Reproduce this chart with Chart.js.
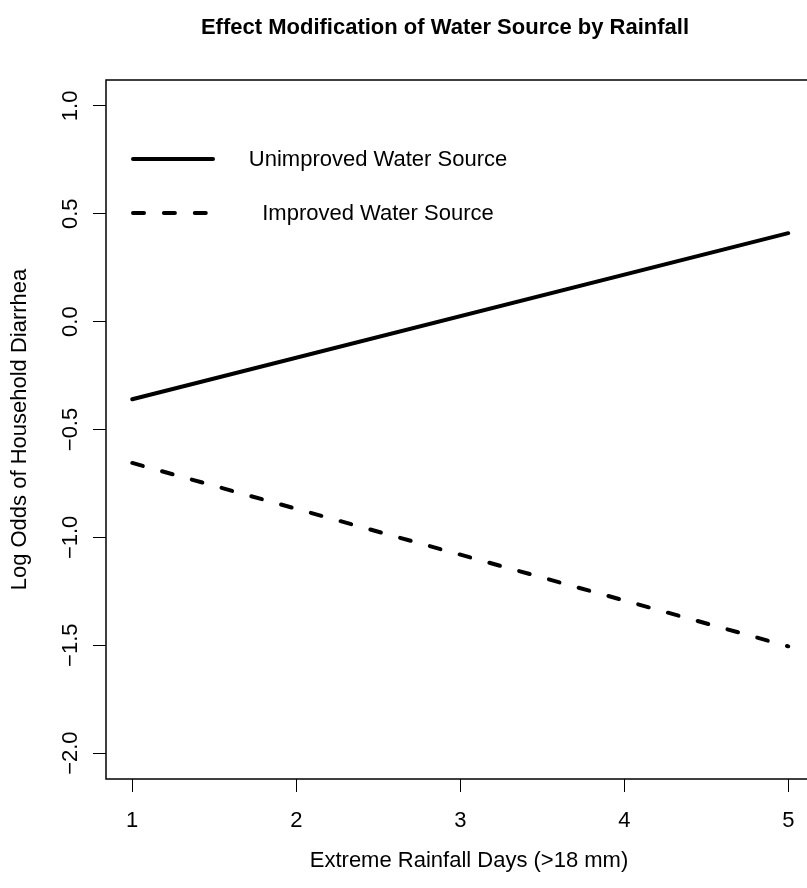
<!DOCTYPE html>
<html>
<head>
<meta charset="utf-8">
<script src="https://cdn.jsdelivr.net/npm/chart.js@4"></script>
<style>
  html, body { margin: 0; padding: 0; background: #fff; overflow: hidden; }
  canvas { display: block; }
</style>
</head>
<body>
<canvas id="rainChart" width="840" height="888"></canvas>
<script>
// extreme rainfall days (x) and fitted log odds for each water source
const rainfallDays = [1, 5];
const unimproved = [-0.36, 0.41];
const improved = [-0.655, -1.505];
const seriesLabels = ['Unimproved Water Source', 'Improved Water Source'];
const xTicks = [1, 2, 3, 4, 5];
const yTicks = [-2.0, -1.5, -1.0, -0.5, 0.0, 0.5, 1.0];

const FONT = '"Liberation Sans", Arial, Helvetica, sans-serif';
Chart.defaults.font.family = FONT;
Chart.defaults.color = '#000';

function toPoints(xs, ys) {
    return xs.map((x, i) => ({ x: x, y: ys[i] }));
}

// R style: 4% padding around the data range
function padRange(ticks) {
    const lo = Math.min(...ticks), hi = Math.max(...ticks);
    const pad = (hi - lo) * 0.04;
    return { min: lo - pad, max: hi + pad };
}
const xRange = padRange(xTicks);
const yRange = padRange(yTicks);

// box around the plot, main title, x label and legend in base-graphics style
const framePlugin = {
    id: 'frame',
    afterDatasetsDraw(chart) {
        const { ctx, chartArea: a } = chart;
        ctx.save();
        ctx.strokeStyle = '#000';
        ctx.lineWidth = 1.5;
        ctx.strokeRect(a.left, a.top, a.right - a.left, a.bottom - a.top);

        ctx.fillStyle = '#000';
        ctx.textAlign = 'center';
        ctx.textBaseline = 'alphabetic';
        ctx.font = 'bold 22px ' + FONT;
        ctx.fillText('Effect Modification of Water Source by Rainfall', 445, 34);
        ctx.font = '22px ' + FONT;
        ctx.fillText('Extreme Rainfall Days (>18 mm)', 469, 867);

        // legend rows
        const rows = [166, 220];
        chart.data.datasets.forEach((ds, i) => {
            const ly = rows[i] - 7;
            ctx.beginPath();
            ctx.lineWidth = ds.borderWidth;
            ctx.lineCap = 'round';
            ctx.setLineDash(ds.borderDash || []);
            ctx.moveTo(a.left + 27, ly);
            ctx.lineTo(a.left + 107, ly);
            ctx.stroke();
            ctx.setLineDash([]);
            ctx.font = '22px ' + FONT;
            ctx.textAlign = 'center';
            ctx.fillText(ds.label, 378, rows[i]);
        });
        ctx.restore();
    }
};

const fmt = v => v.toFixed(1).replace('-', '\u2212');

new Chart(document.getElementById('rainChart'), {
    type: 'line',
    data: {
        datasets: [{
            label: seriesLabels[0],
            data: toPoints(rainfallDays, unimproved),
            borderColor: '#000',
            borderWidth: 4,
            borderCapStyle: 'round',
            pointRadius: 0,
            tension: 0
        }, {
            label: seriesLabels[1],
            data: toPoints(rainfallDays, improved),
            borderColor: '#000',
            borderWidth: 4,
            borderDash: [11, 19.9],
            borderCapStyle: 'round',
            pointRadius: 0,
            tension: 0
        }]
    },
    options: {
        responsive: false,
        animation: false,
        events: [],
        layout: { padding: { top: 80, right: 25.5, left: 0, bottom: 0 } },
        plugins: {
            legend: { display: false },
            title: { display: false },
            tooltip: { enabled: false }
        },
        scales: {
            x: {
                type: 'linear',
                min: xRange.min,
                max: xRange.max,
                afterBuildTicks: s => { s.ticks = xTicks.map(v => ({ value: v })); },
                afterFit: s => { s.height = 109; },
                border: { display: false },
                grid: {
                    drawOnChartArea: false,
                    drawTicks: true,
                    tickLength: 13,
                    tickColor: '#000',
                    tickWidth: 1
                },
                ticks: {
                    autoSkip: false,
                    maxRotation: 0,
                    padding: 16,
                    font: { size: 22 },
                    color: '#000',
                    callback: v => String(v)
                },
                title: { display: false }
            },
            y: {
                type: 'linear',
                min: yRange.min,
                max: yRange.max,
                afterBuildTicks: s => { s.ticks = yTicks.map(v => ({ value: v })); },
                afterFit: s => { s.width = 106; },
                border: { display: false },
                grid: {
                    drawOnChartArea: false,
                    drawTicks: true,
                    tickLength: 13,
                    tickColor: '#000',
                    tickWidth: 1
                },
                ticks: {
                    autoSkip: false,
                    minRotation: 90,
                    maxRotation: 90,
                    crossAlign: 'center',
                    padding: 0,
                    font: { size: 22 },
                    color: '#000',
                    callback: v => fmt(v)
                },
                title: {
                    display: true,
                    text: 'Log Odds of Household Diarrhea',
                    font: { size: 22 },
                    color: '#000',
                    padding: { top: 7, bottom: 0 }
                }
            }
        }
    },
    plugins: [framePlugin]
});
</script>
</body>
</html>
